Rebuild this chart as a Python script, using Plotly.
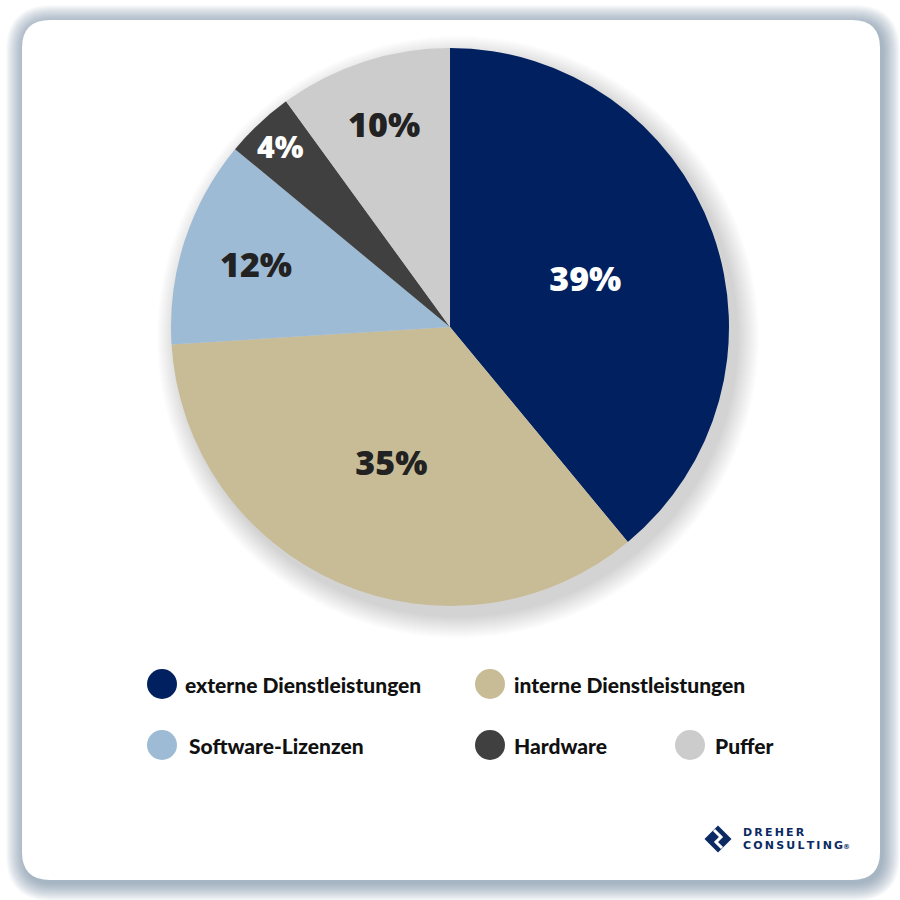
import plotly.graph_objects as go

categories = ["externe Dienstleistungen", "interne Dienstleistungen", "Software-Lizenzen", "Hardware", "Puffer"]
values = [39, 35, 12, 4, 10]
colors = ["#002060", "#C8BC97", "#9DBBD5", "#404040", "#CCCCCC"]
text_colors = ["#FFFFFF", "#222222", "#222222", "#FFFFFF", "#222222"]

W = H = 900

def px(x):
    return x / W

def py(y):
    return 1 - y / H

def rrect(x0, y0, x1, y1, r):
    p = []
    p.append(f"M {px(x0 + r)},{py(y0)}")
    p.append(f"L {px(x1 - r)},{py(y0)}")
    p.append(f"Q {px(x1)},{py(y0)} {px(x1)},{py(y0 + r)}")
    p.append(f"L {px(x1)},{py(y1 - r)}")
    p.append(f"Q {px(x1)},{py(y1)} {px(x1 - r)},{py(y1)}")
    p.append(f"L {px(x0 + r)},{py(y1)}")
    p.append(f"Q {px(x0)},{py(y1)} {px(x0)},{py(y1 - r)}")
    p.append(f"L {px(x0)},{py(y0 + r)}")
    p.append(f"Q {px(x0)},{py(y0)} {px(x0 + r)},{py(y0)}")
    p.append("Z")
    return " ".join(p)

shapes = []
# card shadow
for i in range(18, 0, -1):
    shapes.append(dict(type="path", xref="paper", yref="paper", layer="below",
                       path=rrect(22 - i + 2, 20 - i + 3, 880 + i + 2, 880 + i + 3, 28 + i),
                       fillcolor="#5a6a99", opacity=0.035, line=dict(width=0)))
# card
shapes.append(dict(type="path", xref="paper", yref="paper", layer="below",
                   path=rrect(22, 20, 880, 880, 28), fillcolor="#FFFFFF", line=dict(width=0)))

# pie shadow (soft, offset down-right)
cx, cy, R = 450, 327, 279
for i in range(22, 0, -1):
    shapes.append(dict(type="circle", xref="paper", yref="paper", layer="below",
                       x0=px(cx - R - i + 8), x1=px(cx + R + i + 8),
                       y0=py(cy + R + i + 10), y1=py(cy - R - i + 10),
                       fillcolor="#404040", opacity=0.012, line=dict(width=0)))

fig = go.Figure()
fig.add_trace(go.Pie(
    labels=categories, values=values, sort=False, direction="clockwise", rotation=0,
    marker=dict(colors=colors, line=dict(width=0)),
    texttemplate="%{value}%", textposition="inside", insidetextorientation="horizontal",
    textfont=dict(family="Open Sans", size=34, color=text_colors, weight=800),
    domain=dict(x=[px(cx - R), px(cx + R)], y=[py(cy + R), py(cy - R)]),
    showlegend=False, hoverinfo="label+percent",
))

# custom legend
legend_pos = [(162, 684, 183), (490, 684, 512), (162, 745, 187), (490, 745, 512), (690, 745, 713)]
annotations = []
for (mx, my, tx), name, col in zip(legend_pos, categories, colors):
    rr = 15
    shapes.append(dict(type="circle", xref="paper", yref="paper",
                       x0=px(mx - rr), x1=px(mx + rr), y0=py(my + rr), y1=py(my - rr),
                       fillcolor=col, line=dict(width=0)))
    annotations.append(dict(x=px(tx), y=py(my), xref="paper", yref="paper", text=name,
                            showarrow=False, xanchor="left", yanchor="middle",
                            font=dict(family="Lato", size=21, color="#111111", weight=900)))

# logo
lx, ly, ls = 718, 839, 13.5
navy = "#0B2a63"
shapes.append(dict(type="path", xref="paper", yref="paper",
                   path=f"M {px(lx)},{py(ly - ls)} L {px(lx + ls)},{py(ly)} L {px(lx)},{py(ly + ls)} L {px(lx - ls)},{py(ly)} Z",
                   fillcolor=navy, line=dict(width=0)))
shapes.append(dict(type="path", xref="paper", yref="paper",
                   path=f"M {px(lx - 4)},{py(ly - 9)} L {px(lx + 3)},{py(ly - 2)} L {px(lx - 2)},{py(ly + 3)} L {px(lx + 4)},{py(ly + 9)}",
                   line=dict(color="#FFFFFF", width=3)))
ts = "\u2009"
annotations.append(dict(x=px(741), y=py(832), xref="paper", yref="paper",
                        text=ts.join("DREHER"), showarrow=False, xanchor="left", yanchor="middle",
                        font=dict(family="DejaVu Sans", size=11, color=navy, weight=800)))
annotations.append(dict(x=px(741), y=py(845), xref="paper", yref="paper",
                        text=ts.join("CONSULTING") + "<span style='font-size:7px'>®</span>",
                        showarrow=False, xanchor="left", yanchor="middle",
                        font=dict(family="DejaVu Sans", size=11, color=navy, weight=800)))

fig.update_layout(
    width=W, height=H, margin=dict(l=0, r=0, t=0, b=0),
    paper_bgcolor="#FFFFFF", plot_bgcolor="#FFFFFF",
    shapes=shapes, annotations=annotations,
)
fig.write_html("out.html", config={"displayModeBar": False},
               post_script="document.body.style.margin='0';document.body.style.overflow='hidden';")
